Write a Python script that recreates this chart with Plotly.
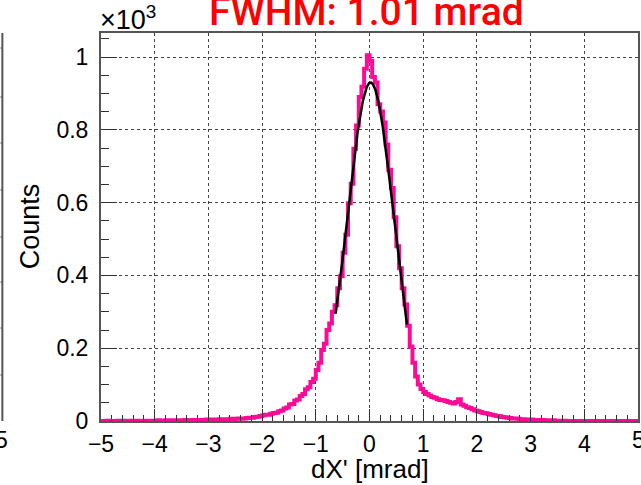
import numpy as np
import plotly.graph_objects as go

# ---------------- data ----------------
bin_width = 0.05
x_min, x_max = -5.0, 5.0

# counts per bin (bin centres -4.975 ... 4.975)
counts_m5_m4 = [0, 0, 1, 0, 0, 0, 1, 0, 1, 0, 0, 1, 0, 1, 0, 0, 1, 0, 1, 1]
counts_m4_m3 = [1, 2, 1, 1, 2, 1, 2, 2, 1, 2, 2, 3, 2, 2, 3, 2, 3, 3, 3, 4]
counts_m3_m2 = [3, 4, 4, 4, 5, 4, 5, 5, 6, 5, 6, 7, 6, 7, 8, 9, 9, 11, 12, 14]
counts_m2_m1 = [15, 17, 17, 20, 22, 23, 27, 29, 34, 37, 45, 47, 56, 59, 69, 74, 87, 93, 107, 116]
counts_m1_0 = [140, 160, 195, 212, 250, 268, 300, 318, 365, 398, 462, 512, 598, 652, 748, 812, 890, 918, 968, 1005]
counts_0_1 = [990, 945, 930, 870, 850, 820, 760, 690, 640, 560, 480, 420, 365, 320, 262, 205, 160, 122, 100, 88]
counts_1_2 = [80, 74, 70, 66, 64, 60, 58, 57, 55, 52, 50, 48, 52, 60, 45, 42, 38, 36, 32, 29]
counts_2_3 = [27, 25, 22, 21, 19, 17, 16, 14, 13, 11, 10, 9, 8, 7, 7, 6, 5, 5, 4, 4]
counts_3_4 = [4, 3, 3, 2, 3, 2, 2, 1, 2, 1, 1, 1, 1, 0, 0, 0, 0, 0, 0, 0]
counts_4_5 = [0] * 20

# Gaussian fit parameters
fit_amp = 930.0
fit_mean = 0.02
fit_sigma = 0.429
fit_lo, fit_hi = -0.63, 0.70

title_text = "FWHM: 1.01 mrad"
x_title = "dX' [mrad]"
y_title = "Counts"
x_tickvals = [-5, -4, -3, -2, -1, 0, 1, 2, 3, 4, 5]
x_ticktext = ["\u22125", "\u22124", "\u22123", "\u22122", "\u22121", "0", "1", "2", "3", "4", "5"]
y_tickvals = [0, 200, 400, 600, 800, 1000]
y_ticktext = ["0", "0.2", "0.4", "0.6", "0.8", "1"]

# ---------------- build ----------------
counts = (counts_m5_m4 + counts_m4_m3 + counts_m3_m2 + counts_m2_m1 + counts_m1_0
          + counts_0_1 + counts_1_2 + counts_2_3 + counts_3_4 + counts_4_5)
n = len(counts)
edges = x_min + bin_width * np.arange(n + 1)
hx = list(edges)
hy = list(counts) + [counts[-1]]

fx = np.linspace(fit_lo, fit_hi, 300)
fy = fit_amp * np.exp(-0.5 * ((fx - fit_mean) / fit_sigma) ** 2)

PINK = "#ff0a96"
AX = "#555555"

fig = go.Figure()
fig.add_trace(go.Scatter(x=hx, y=hy, mode="lines", line=dict(color=PINK, width=4, shape="hv"),
                         hoverinfo="skip", showlegend=False))
fig.add_trace(go.Scatter(x=fx, y=fy, mode="lines", line=dict(color="black", width=2.5),
                         hoverinfo="skip", showlegend=False))

W, H = 641, 485
L, R, T, B = 101, 1, 33, 64
pw, ph = W - L - R, H - T - B

def px(xp):
    return (xp - L) / pw

def py(yp):
    return (H - B - yp) / ph

font = "Liberation Sans, Arial, sans-serif"

fig.update_layout(
    width=W, height=H,
    margin=dict(l=L, r=R, t=T, b=B, pad=0),
    paper_bgcolor="white", plot_bgcolor="white",
    showlegend=False,
    font=dict(family=font, color="black", size=23),
    xaxis=dict(
        range=[x_min, x_max], tickmode="array", tickvals=x_tickvals, ticktext=x_ticktext,
        ticks="inside", ticklen=12, tickwidth=1, tickcolor="#333",
        showline=True, linecolor=AX, linewidth=2, mirror=True,
        showgrid=True, gridcolor="#444", griddash="dot", gridwidth=1,
        zeroline=False, tickfont=dict(size=23, family=font), ticklabelstandoff=1,
        minor=dict(ticks="inside", ticklen=6, tickcolor="#333", tick0=0, dtick=0.2, showgrid=False),
        fixedrange=True,
    ),
    yaxis=dict(
        range=[0, 1066], tickmode="array", tickvals=y_tickvals, ticktext=y_ticktext,
        ticks="inside", ticklen=16, tickwidth=1, tickcolor="#333",
        showline=True, linecolor=AX, linewidth=2, mirror=True,
        showgrid=True, gridcolor="#444", griddash="dot", gridwidth=1,
        zeroline=False, tickfont=dict(size=23, family=font), ticklabelstandoff=6,
        minor=dict(ticks="inside", ticklen=8, tickcolor="#333", tick0=0, dtick=50, showgrid=False),
        fixedrange=True,
    ),
)

ann = []
ann.append(dict(text=title_text, x=px(367), y=py(12), xref="paper", yref="paper",
                xanchor="center", yanchor="middle", showarrow=False,
                font=dict(family="Roboto, sans-serif", size=39, color="#ff0000", weight=500)))
ann.append(dict(text="\u00d710<sup>3</sup>", x=px(98), y=py(18), xref="paper", yref="paper",
                xanchor="left", yanchor="middle", showarrow=False,
                font=dict(family=font, size=27, color="black")))
ann.append(dict(text=x_title, x=px(371), y=py(469), xref="paper", yref="paper",
                xanchor="center", yanchor="middle", showarrow=False,
                font=dict(family=font, size=26, color="black")))
ann.append(dict(text=y_title, x=px(30), y=py(226), xref="paper", yref="paper",
                xanchor="center", yanchor="middle", showarrow=False, textangle=-90,
                font=dict(family=font, size=27, color="black")))
# tick label "5" at the right end of the x axis (cut by the picture's edge)
ann.append(dict(text=x_ticktext[-1], x=1.0, y=py(440), xref="paper", yref="paper",
                xanchor="center", yanchor="middle", showarrow=False,
                font=dict(family=font, size=23, color="black")))
# label of the neighbouring panel at the left edge
ann.append(dict(text="5", x=px(10), y=py(440), xref="paper", yref="paper",
                xanchor="right", yanchor="middle", showarrow=False,
                font=dict(family=font, size=23, color="black")))
fig.update_layout(annotations=ann)

shapes = [dict(type="line", xref="paper", yref="paper", x0=px(2), x1=px(2), y0=py(33), y1=py(421),
               line=dict(color=AX, width=2))]
for yy in [48, 97, 143, 190, 237, 282, 328, 375]:
    shapes.append(dict(type="line", xref="paper", yref="paper", x0=px(0), x1=px(2), y0=py(yy), y1=py(yy),
                       line=dict(color=AX, width=1)))
fig.update_layout(shapes=shapes)

fig.write_html("out.html", config={"displayModeBar": False},
               post_script="document.body.style.margin='0';document.body.style.padding='0';")
